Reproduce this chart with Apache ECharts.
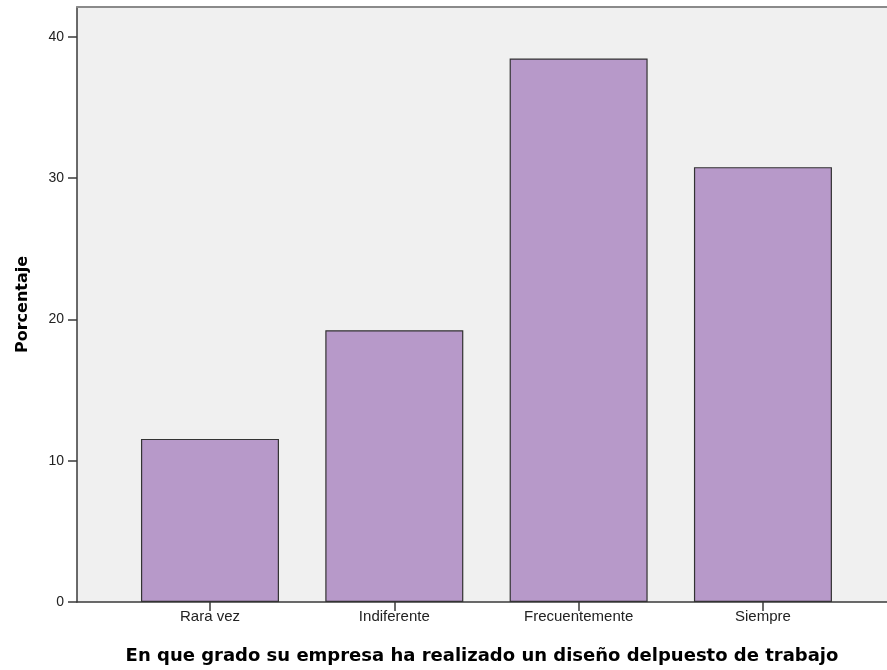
<!DOCTYPE html>
<html>
<head>
<meta charset="utf-8">
<script src="https://cdn.jsdelivr.net/npm/echarts@6/dist/echarts.min.js"></script>
<style>html,body{margin:0;padding:0;background:#fff;}#chart{width:887px;height:670px;}</style>
</head>
<body>
<div id="chart"></div>
<script>
const categories = ['Rara vez', 'Indiferente', 'Frecuentemente', 'Siempre'];
const percentages = [11.54, 19.23, 38.46, 30.77];
const yTicks = [0, 10, 20, 30, 40];
const xTitle = 'En que grado su empresa ha realizado un diseño delpuesto de trabajo';
const yTitle = 'Porcentaje';

const positions = categories.map((c, i) => i);
const xMin = -0.7215, xMax = 3.673;
const chart = echarts.init(document.getElementById('chart'));
chart.setOption({
  animation: false,
  backgroundColor: '#ffffff',
  grid: {
    left: 77, right: 0, top: 7, bottom: 68,
    show: true, backgroundColor: '#f0f0f0', borderWidth: 0
  },
  xAxis: [{
    type: 'value',
    min: xMin, max: xMax,
    splitLine: { show: false },
    axisLine: { show: true, onZero: false, lineStyle: { color: '#3a3a3a', width: 1.5 } },
    axisTick: { show: true, inside: false, length: 9, customValues: positions, lineStyle: { color: '#3a3a3a', width: 1.5 } },
    axisLabel: {
      customValues: positions,
      formatter: v => categories[Math.round(v)] || '',
      fontFamily: 'Liberation Sans', fontSize: 15, color: '#222', margin: 7
    },
    name: xTitle, nameLocation: 'middle', nameGap: 45,
    nameTextStyle: { fontFamily: 'DejaVu Sans', fontWeight: 'bold', fontSize: 18, color: '#000' }
  }, {
    type: 'value',
    position: 'top',
    min: xMin, max: xMax,
    splitLine: { show: false },
    axisLine: { show: true, onZero: false, lineStyle: { color: '#8a8a8a', width: 2 } },
    axisTick: { show: false },
    axisLabel: { show: false }
  }],
  yAxis: {
    type: 'value',
    min: 0, max: 42.1,
    splitLine: { show: false },
    axisLine: { show: true, onZero: false, lineStyle: { color: '#3a3a3a', width: 1.5 } },
    axisTick: { show: true, inside: false, length: 9, customValues: yTicks, lineStyle: { color: '#3a3a3a', width: 1.5 } },
    axisLabel: { customValues: yTicks, fontFamily: 'Liberation Sans', fontSize: 14, color: '#222', margin: 13 },
    name: yTitle, nameLocation: 'middle', nameGap: 46, nameRotate: 90,
    nameTextStyle: { fontFamily: 'DejaVu Sans', fontWeight: 'bold', fontSize: 16, color: '#000' }
  },
  series: [{
    type: 'bar',
    xAxisIndex: 0,
    data: positions.map((p, i) => [p, percentages[i]]),
    barWidth: 138,
    itemStyle: { color: '#b799c9', borderColor: '#333333', borderWidth: 1.2 }
  }]
});
</script>
</body>
</html>
